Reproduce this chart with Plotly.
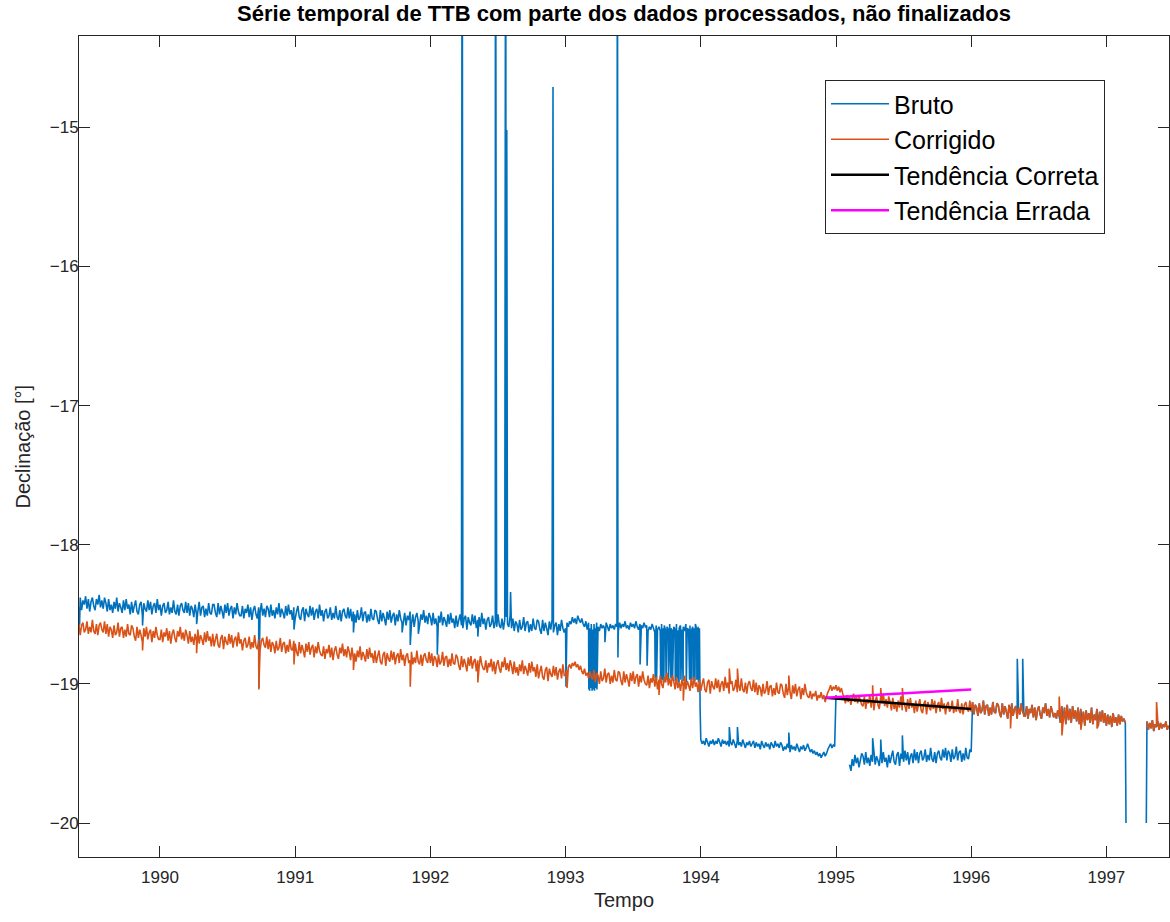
import plotly.graph_objects as go

# Regular sampling grid of the magnetometer series (decimal years)
T0 = 1989.40
DT = 0.01

# Raw declination in hundredths of a degree, one value per grid step up to
# 1996.00; None = no data
bruto_cdeg = [
    -1845, -1838, -1847, -1840, -1843, -1837, -1846, -1839, -1848, -1841, -1838, -1844, -1847, -1839, -1843, -1836, -1845, -1840, -1846, -1838,
    -1842, -1848, -1839, -1847, -1843, -1849, -1841, -1846, -1838, -1848, -1842, -1845, -1849, -1840, -1847, -1839, -1846, -1843, -1850, -1841,
    -1849, -1844, -1840, -1848, -1850, -1843, -1841, -1851, -1842, -1846, -1848, -1840, -1847, -1841, -1850, -1844, -1842, -1849, -1839, -1847,
    -1843, -1851, -1844, -1842, -1849, -1847, -1841, -1850, -1845, -1849, -1840, -1848, -1850, -1843, -1851, -1844, -1842, -1847, -1849, -1841,
    -1849, -1842, -1851, -1844, -1846, -1852, -1843, -1850, -1848, -1841, -1851, -1845, -1844, -1852, -1846, -1851, -1842, -1849, -1850, -1843,
    -1843, -1849, -1852, -1842, -1850, -1844, -1848, -1853, -1843, -1849, -1842, -1851, -1846, -1844, -1853, -1845, -1850, -1842, -1848, -1851,
    -1851, -1844, -1853, -1846, -1849, -1843, -1852, -1845, -1854, -1847, -1844, -1850, -1853, -1845, -1849, -1842, -1851, -1846, -1852, -1844,
    -1846, -1852, -1843, -1851, -1847, -1853, -1845, -1850, -1842, -1852, -1846, -1849, -1853, -1844, -1851, -1843, -1850, -1847, -1854, -1845,
    -1853, -1848, -1844, -1852, -1854, -1847, -1845, -1855, -1846, -1850, -1852, -1844, -1851, -1845, -1854, -1848, -1846, -1853, -1843, -1851,
    -1847, -1855, -1848, -1846, -1853, -1851, -1845, -1854, -1849, -1853, -1844, -1852, -1854, -1847, -1855, -1848, -1846, -1851, -1853, -1845,
    -1853, -1846, -1855, -1848, -1850, -1856, -1847, -1854, -1852, -1845, -1855, -1849, -1848, -1856, -1850, -1855, -1846, -1853, -1854, -1847,
    -1848, -1854, -1857, -1847, -1855, -1849, -1853, -1858, -1848, -1854, -1847, -1856, -1851, -1849, -1858, -1850, -1855, -1847, -1853, -1856,
    -1856, -1849, -1858, -1851, -1854, -1848, -1857, -1850, -1859, -1852, -1849, -1855, -1858, -1850, -1854, -1847, -1856, -1851, -1857, -1849,
    -1852, -1858, -1849, -1857, -1853, -1859, -1851, -1856, -1848, -1858, -1852, -1855, -1859, -1850, -1857, -1849, -1856, -1853, -1860, -1851,
    -1859, -1854, -1850, -1858, -1860, -1853, -1851, -1861, -1852, -1856, -1858, -1850, -1857, -1851, -1860, -1854, -1852, -1859, -1849, -1857,
    -1853, -1861, -1854, -1852, -1859, -1857, -1851, -1860, -1855, -1859, -1850, -1858, -1860, -1853, -1861, -1854, -1852, -1857, -1859, -1851,
    -1860, -1853, -1862, -1855, -1857, -1863, -1854, -1861, -1859, -1852, -1862, -1856, -1855, -1863, -1857, -1862, -1853, -1860, -1861, -1854,
    -1855, -1861, -1864, -1854, -1862, -1856, -1860, -1865, -1855, -1861, -1854, -1863, -1858, -1856, -1865, -1857, -1862, -1854, -1860, -1863,
    -1860, -1856, -1859, -1855, -1857, -1852, -1856, -1853, -1857, -1851, -1854, -1856, -1853, -1857, -1859, -1855, -1861, -1856, -1860, -1857,
    -1861, -1857, -1860, -1856, -1859, -1862, -1857, -1860, -1858, -1861, -1856, -1859, -1862, -1857, -1860, -1858, -1861, -1857, -1859, -1862,
    -1856, -1860, -1857, -1859, -1855, -1860, -1858, -1861, -1856, -1859, -1857, -1860, -1855, -1859, -1861, -1857, -1858, -1860, -1856, -1859,
    -1858, -1862, -1859, -1861, -1857, -1860, -1863, -1858, -1861, -1859, -1862, -1857, -1860, -1858, -1862, -1859, -1861, -1857, -1860, -1862,
    -1859, -1861, -1857, -1862, -1860, -1858, -1861, -1859, -1862, -1857, -1860, -1861, -1858, -1862, -1859, -1860, -1857, -1861, -1859, -1860,
    -1940, -1943, -1941, -1944, -1939, -1942, -1945, -1941, -1943, -1940, -1944, -1941, -1943, -1939, -1942, -1945, -1940, -1943, -1941, -1944,
    -1941, -1945, -1942, -1944, -1940, -1943, -1946, -1941, -1944, -1942, -1945, -1940, -1943, -1946, -1942, -1944, -1941, -1945, -1943, -1941,
    -1946, -1942, -1945, -1943, -1947, -1941, -1944, -1946, -1942, -1945, -1943, -1947, -1942, -1944, -1946, -1941, -1945, -1943, -1946, -1942,
    -1944, -1948, -1945, -1947, -1943, -1946, -1949, -1944, -1947, -1945, -1948, -1943, -1946, -1949, -1945, -1947, -1944, -1948, -1946, -1943,
    -1946, -1949, -1947, -1950, -1948, -1951, -1949, -1952, -1950, -1953, -1951, -1949, -1952, -1950, -1947, -1945, -1943, -1946, -1944, -1945,
    -1908, None, None, None, None, None, None, None, None, None, -1958, -1962, -1954, -1959, -1951, -1957, -1953, -1960, -1955, -1950,
    -1952, -1958, -1949, -1957, -1953, -1959, -1951, -1956, -1948, -1958, -1952, -1955, -1959, -1950, -1957, -1949, -1956, -1953, -1960, -1951,
    -1957, -1952, -1948, -1956, -1958, -1951, -1949, -1959, -1950, -1954, -1956, -1948, -1955, -1949, -1958, -1952, -1950, -1957, -1947, -1955,
    -1949, -1957, -1950, -1948, -1955, -1953, -1947, -1956, -1951, -1955, -1946, -1954, -1956, -1949, -1957, -1950, -1948, -1953, -1955, -1947,
    -1953, -1946, -1955, -1948, -1950, -1956, -1947, -1954, -1952, -1945, -1955, -1949, -1948, -1956, -1950, -1955, -1946, -1953, -1954, -1947,
    -1949,
]

# Corrected declination in hundredths of a degree over the whole record
corrigido_cdeg = [
    -1857, -1865, -1858, -1856, -1863, -1861, -1855, -1864, -1859, -1863, -1854, -1862, -1864, -1857, -1865, -1858, -1856, -1861, -1863, -1855,
    -1864, -1857, -1866, -1859, -1861, -1867, -1858, -1865, -1863, -1856, -1866, -1860, -1859, -1867, -1861, -1866, -1857, -1864, -1865, -1858,
    -1860, -1866, -1869, -1859, -1867, -1861, -1865, -1870, -1860, -1866, -1859, -1868, -1863, -1861, -1870, -1862, -1867, -1859, -1865, -1868,
    -1868, -1861, -1870, -1863, -1866, -1860, -1869, -1862, -1871, -1864, -1861, -1867, -1870, -1862, -1866, -1859, -1868, -1863, -1869, -1861,
    -1865, -1871, -1862, -1870, -1866, -1872, -1864, -1869, -1861, -1871, -1865, -1868, -1872, -1863, -1870, -1862, -1869, -1866, -1873, -1864,
    -1873, -1868, -1864, -1872, -1874, -1867, -1865, -1875, -1866, -1870, -1872, -1864, -1871, -1865, -1874, -1868, -1866, -1873, -1863, -1871,
    -1868, -1876, -1869, -1867, -1874, -1872, -1866, -1875, -1870, -1874, -1865, -1873, -1875, -1868, -1876, -1869, -1867, -1872, -1874, -1866,
    -1875, -1868, -1877, -1870, -1872, -1878, -1869, -1876, -1874, -1867, -1877, -1871, -1870, -1878, -1872, -1877, -1868, -1875, -1876, -1869,
    -1871, -1877, -1880, -1870, -1878, -1872, -1876, -1881, -1871, -1877, -1870, -1879, -1874, -1872, -1881, -1873, -1878, -1870, -1876, -1879,
    -1880, -1873, -1882, -1875, -1878, -1872, -1881, -1874, -1883, -1876, -1873, -1879, -1882, -1874, -1878, -1871, -1880, -1875, -1881, -1873,
    -1877, -1883, -1874, -1882, -1878, -1884, -1876, -1881, -1873, -1883, -1877, -1880, -1884, -1875, -1882, -1874, -1881, -1878, -1885, -1876,
    -1885, -1880, -1876, -1884, -1886, -1879, -1877, -1887, -1878, -1882, -1884, -1876, -1883, -1877, -1886, -1880, -1878, -1885, -1875, -1883,
    -1879, -1887, -1880, -1878, -1885, -1883, -1877, -1886, -1881, -1885, -1876, -1884, -1886, -1879, -1887, -1880, -1878, -1883, -1885, -1877,
    -1885, -1878, -1887, -1880, -1882, -1888, -1879, -1886, -1884, -1877, -1887, -1881, -1880, -1888, -1882, -1887, -1878, -1885, -1886, -1879,
    -1881, -1887, -1890, -1880, -1888, -1882, -1886, -1891, -1881, -1887, -1880, -1889, -1884, -1882, -1891, -1883, -1888, -1880, -1886, -1889,
    -1890, -1883, -1892, -1885, -1888, -1882, -1891, -1884, -1893, -1886, -1883, -1889, -1892, -1884, -1888, -1881, -1890, -1885, -1891, -1883,
    -1887, -1893, -1884, -1892, -1888, -1894, -1886, -1891, -1883, -1893, -1887, -1890, -1894, -1885, -1892, -1884, -1891, -1888, -1895, -1886,
    -1896, -1891, -1887, -1895, -1897, -1890, -1888, -1898, -1889, -1893, -1895, -1887, -1894, -1888, -1897, -1891, -1889, -1896, -1886, -1894,
    -1894, -1890, -1888, -1886, -1889, -1885, -1887, -1884, -1888, -1886, -1890, -1887, -1891, -1893, -1889, -1894, -1892, -1896, -1891, -1895,
    -1897, -1890, -1899, -1892, -1894, -1900, -1891, -1898, -1896, -1889, -1899, -1893, -1892, -1900, -1894, -1899, -1890, -1897, -1898, -1891,
    -1892, -1898, -1901, -1891, -1899, -1893, -1897, -1902, -1892, -1898, -1891, -1900, -1895, -1893, -1902, -1894, -1899, -1891, -1897, -1900,
    -1901, -1894, -1903, -1896, -1899, -1893, -1902, -1895, -1904, -1897, -1894, -1900, -1903, -1895, -1899, -1892, -1901, -1896, -1902, -1894,
    -1898, -1904, -1895, -1903, -1899, -1905, -1897, -1902, -1894, -1904, -1898, -1901, -1905, -1896, -1903, -1895, -1902, -1899, -1906, -1897,
    -1905, -1900, -1896, -1904, -1906, -1899, -1897, -1907, -1898, -1902, -1904, -1896, -1903, -1897, -1906, -1900, -1898, -1905, -1895, -1903,
    -1899, -1907, -1900, -1898, -1905, -1903, -1897, -1906, -1901, -1905, -1896, -1904, -1906, -1899, -1907, -1900, -1898, -1903, -1905, -1897,
    -1906, -1899, -1908, -1901, -1903, -1909, -1900, -1907, -1905, -1898, -1908, -1902, -1901, -1909, -1903, -1908, -1899, -1906, -1907, -1900,
    -1901, -1907, -1910, -1900, -1908, -1902, -1906, -1911, -1901, -1907, -1900, -1909, -1904, -1902, -1911, -1903, -1908, -1900, -1906, -1909,
    -1910, -1905, -1911, -1907, -1909, -1905, -1912, -1908, -1910, -1906, -1911, -1908, -1913, -1909, -1906, -1904, -1901, -1905, -1902, -1904,
    -1901, -1905, -1902, -1906, -1903, -1907, -1910, -1914, -1908, -1913, -1909, -1915, -1910, -1907, -1913, -1909, -1914, -1908, -1912, -1915,
    -1916, -1909, -1918, -1911, -1914, -1908, -1917, -1910, -1919, -1912, -1909, -1915, -1918, -1910, -1914, -1907, -1916, -1911, -1917, -1909,
    -1913, -1919, -1910, -1918, -1914, -1920, -1912, -1917, -1909, -1919, -1913, -1916, -1920, -1911, -1918, -1910, -1917, -1914, -1921, -1912,
    -1920, -1915, -1911, -1919, -1921, -1914, -1912, -1922, -1913, -1917, -1919, -1911, -1918, -1912, -1921, -1915, -1913, -1920, -1910, -1918,
    -1914, -1922, -1915, -1913, -1920, -1918, -1912, -1921, -1916, -1920, -1911, -1919, -1921, -1914, -1922, -1915, -1913, -1918, -1920, -1912,
    -1920, -1913, -1922, -1915, -1917, -1923, -1914, -1921, -1919, -1912, -1922, -1916, -1915, -1923, -1917, -1922, -1913, -1920, -1921, -1914,
    -1915, -1921, -1924, -1914, -1922, -1916, -1920, -1925, -1915, -1921, -1914, -1923, -1918, -1916, -1925, -1917, -1922, -1914, -1920, -1923,
    -1923, -1916, -1925, -1918, -1921, -1915, -1924, -1917, -1926, -1919, -1916, -1922, -1925, -1917, -1921, -1914, -1923, -1918, -1924, -1916,
    -1920, -1924, -1921, -1925, -1919, -1923, -1928, -1916, -1927, -1917, -1929, -1915, -1926, -1918, -1928, -1916, -1925, -1919, -1927, -1917,
    -1929, -1918, -1927, -1920, -1930, -1919, -1926, -1921, -1928, -1917, -1929, -1922, -1926, -1918, -1930, -1920, -1927, -1919, -1928, -1921,
    -1930, -1922, -1929, -1923, -1931, -1921, -1928, -1924, -1930, -1922, -1929, -1923, -1927, -1925, -1928, None, None, None, None, None,
    None, None, None, None, None, None, None, None, None, None, -1927, -1933, -1928, -1932, -1926, -1934, -1929, -1931, -1927, -1933,
    -1928, -1932, -1929, -1931, -1927, -1933, -1930,
]

# Isolated outlier samples (time, value in deg) in the raw record
bruto_spike_t = [
    1989.405, 1989.871, 1990.271, 1990.731, 1990.991, 1991.431, 1991.791, 1991.851,
    1991.911, 1992.051, 1992.351,
    1992.235, 1992.481, 1992.557, 1992.565, 1992.593, 1992.907,
    1993.003, 1993.291, 1993.383, 1993.387,
    1993.172, 1993.176, 1993.178, 1993.184, 1993.188, 1993.192, 1993.196, 1993.202,
    1993.206, 1993.212, 1993.214, 1993.218, 1993.222, 1993.226, 1993.232,
    1993.551, 1993.603, 1993.663, 1993.667, 1993.673, 1993.703, 1993.713, 1993.717,
    1993.723, 1993.727, 1993.743, 1993.761, 1993.779, 1993.791, 1993.811, 1993.823,
    1993.829, 1993.833, 1993.839, 1993.853, 1993.869, 1993.893, 1993.917, 1993.929,
    1993.943, 1993.949, 1993.953, 1993.957, 1993.971, 1993.983, 1993.995,
    1994.211, 1994.271, 1994.651, 1995.111, 1995.271, 1995.331, 1995.491,
    1996.341, 1996.381, 1997.145, 1997.295,
]
bruto_spike_v = [
    -18.58, -18.58, -18.57, -19.03, -18.61, -18.63, -18.63, -18.72,
    -18.64, -18.79, -18.66,
    -12.00, -12.00, -12.00, -15.02, -18.34, -14.71,
    -19.02, -18.70, -12.00, -18.81,
    -19.04, -18.63, -19.05, -18.61, -19.03, -18.64, -19.05, -18.62,
    -19.04, -18.63, -19.05, -18.61, -19.03, -18.62, -19.04,
    -18.86, -18.87, -18.96, -18.63, -18.97, -18.98, -18.97, -18.62,
    -18.99, -18.97, -18.97, -18.98, -18.96, -18.97, -18.98, -18.96,
    -18.62, -18.97, -18.99, -18.97, -18.98, -18.99, -18.97, -18.98,
    -18.97, -18.62, -18.98, -18.97, -18.97, -18.99, -19.18,
    -19.31, -19.31, -19.35, -19.62, -19.39, -19.40, -19.37,
    -18.82, -18.82, -20.00, -20.00,
]

# Isolated outlier samples (time, value in deg) kept in the corrected record
corrigido_spike_t = [
    1989.871, 1990.271, 1990.731, 1990.991, 1991.431, 1991.851, 1992.351,
    1993.011, 1993.691, 1993.871, 1994.211, 1994.271, 1994.651,
    1995.271, 1995.331, 1995.491, 1996.291, 1996.651, 1996.671, 1996.811,
    1996.931, 1997.371,
]
corrigido_spike_v = [
    -18.76, -18.78, -19.04, -18.86, -18.90, -19.02, -18.99,
    -19.03, -19.08, -19.12, -18.89, -18.89, -18.94,
    -19.01, -19.03, -19.03, -19.32, -19.09, -19.37, -19.33,
    -19.32, -19.13,
]

# Linear trends fitted over 1995
trend_t = [1994.92, 1996.00]
correta_v = [-19.10, -19.18]
errada_v = [-19.10, -19.04]

year_ticks = [1990, 1991, 1992, 1993, 1994, 1995, 1996, 1997]
year_labels = ["1990", "1991", "1992", "1993", "1994", "1995", "1996", "1997"]
decl_ticks = [-20, -19, -18, -17, -16, -15]
decl_labels = ["\u221220", "\u221219", "\u221218", "\u221217", "\u221216", "\u221215"]


def to_deg(cdeg):
    return [None if v is None else v / 100.0 for v in cdeg]


def with_spikes(samples, spike_t, spike_v):
    """Put the regular samples and the outlier samples on one time-ordered line."""
    t = [T0 + DT * k for k in range(len(samples))]
    pts = sorted(zip(t + list(spike_t), list(samples) + list(spike_v)),
                 key=lambda p: p[0])
    return [p[0] for p in pts], [p[1] for p in pts]


bruto = to_deg(bruto_cdeg)
corrigido = to_deg(corrigido_cdeg)
# From 1996 on the raw record needs no correction
bruto_full = bruto + corrigido[len(bruto):]
bx, by = with_spikes(bruto_full, bruto_spike_t, bruto_spike_v)
cx, cy = with_spikes(corrigido, corrigido_spike_t, corrigido_spike_v)

AXIS = "#262626"
FONT = "Liberation Sans, Arial, Helvetica, sans-serif"

fig = go.Figure()
fig.add_trace(go.Scatter(x=bx, y=by, mode="lines", name="Bruto",
                         line=dict(color="#0072BD", width=1.6, simplify=False),
                         connectgaps=False, legendgroup="a"))
fig.add_trace(go.Scatter(x=cx, y=cy, mode="lines", name="Corrigido",
                         line=dict(color="#D95319", width=1.6, simplify=False),
                         connectgaps=False, legendgroup="b"))
fig.add_trace(go.Scatter(x=trend_t, y=correta_v, mode="lines",
                         name="Tendência Correta",
                         line=dict(color="#000000", width=2.5), legendgroup="c"))
fig.add_trace(go.Scatter(x=trend_t, y=errada_v, mode="lines",
                         name="Tendência Errada",
                         line=dict(color="#FF00FF", width=2.5), legendgroup="d"))

L, R, T, B = 79, 1, 36, 65
W, H = 1170, 922
pw, ph = W - L - R, H - T - B

fig.update_layout(
    width=W, height=H,
    margin=dict(l=L, r=R, t=T, b=B, autoexpand=False),
    paper_bgcolor="white", plot_bgcolor="white",
    font=dict(family=FONT, color=AXIS, size=17),
    title=dict(text="<b>Série temporal de TTB com parte dos dados processados, não finalizados</b>",
               x=0.5, xref="paper", xanchor="center",
               y=1 - 13 / H, yref="container", yanchor="middle",
               font=dict(family=FONT, size=22, color="#000000")),
    showlegend=True,
    legend=dict(x=(825 - L) / pw, y=1 - (80 - T) / ph, xanchor="left", yanchor="top",
                bgcolor="white", bordercolor=AXIS, borderwidth=1,
                font=dict(family=FONT, size=25, color="#000000"),
                tracegroupgap=0, itemwidth=58,
                entrywidth=252, entrywidthmode="pixels"),
    xaxis=dict(range=[1989.401, 1997.463], tickvals=year_ticks, ticktext=year_labels,
               ticks="inside", ticklen=11, tickcolor=AXIS, tickwidth=1,
               showline=True, linecolor=AXIS, linewidth=1, mirror="ticks",
               showgrid=False, zeroline=False, ticklabelstandoff=5,
               tickfont=dict(size=17, color=AXIS),
               title=dict(text="Tempo", font=dict(size=20, color=AXIS), standoff=6)),
    yaxis=dict(range=[-20.244, -14.344], tickvals=decl_ticks, ticktext=decl_labels,
               ticks="inside", ticklen=11, tickcolor=AXIS, tickwidth=1,
               showline=True, linecolor=AXIS, linewidth=1, mirror="ticks",
               showgrid=False, zeroline=False, ticklabelstandoff=-4,
               tickfont=dict(size=17, color=AXIS)),
    annotations=[dict(text="Declinação [°]", textangle=-90,
                      x=(22 - L) / pw, xref="paper", xanchor="center",
                      y=0.5, yref="paper", yanchor="middle", showarrow=False,
                      font=dict(family=FONT, size=20, color=AXIS))],
)

fig.write_html("out.html")
